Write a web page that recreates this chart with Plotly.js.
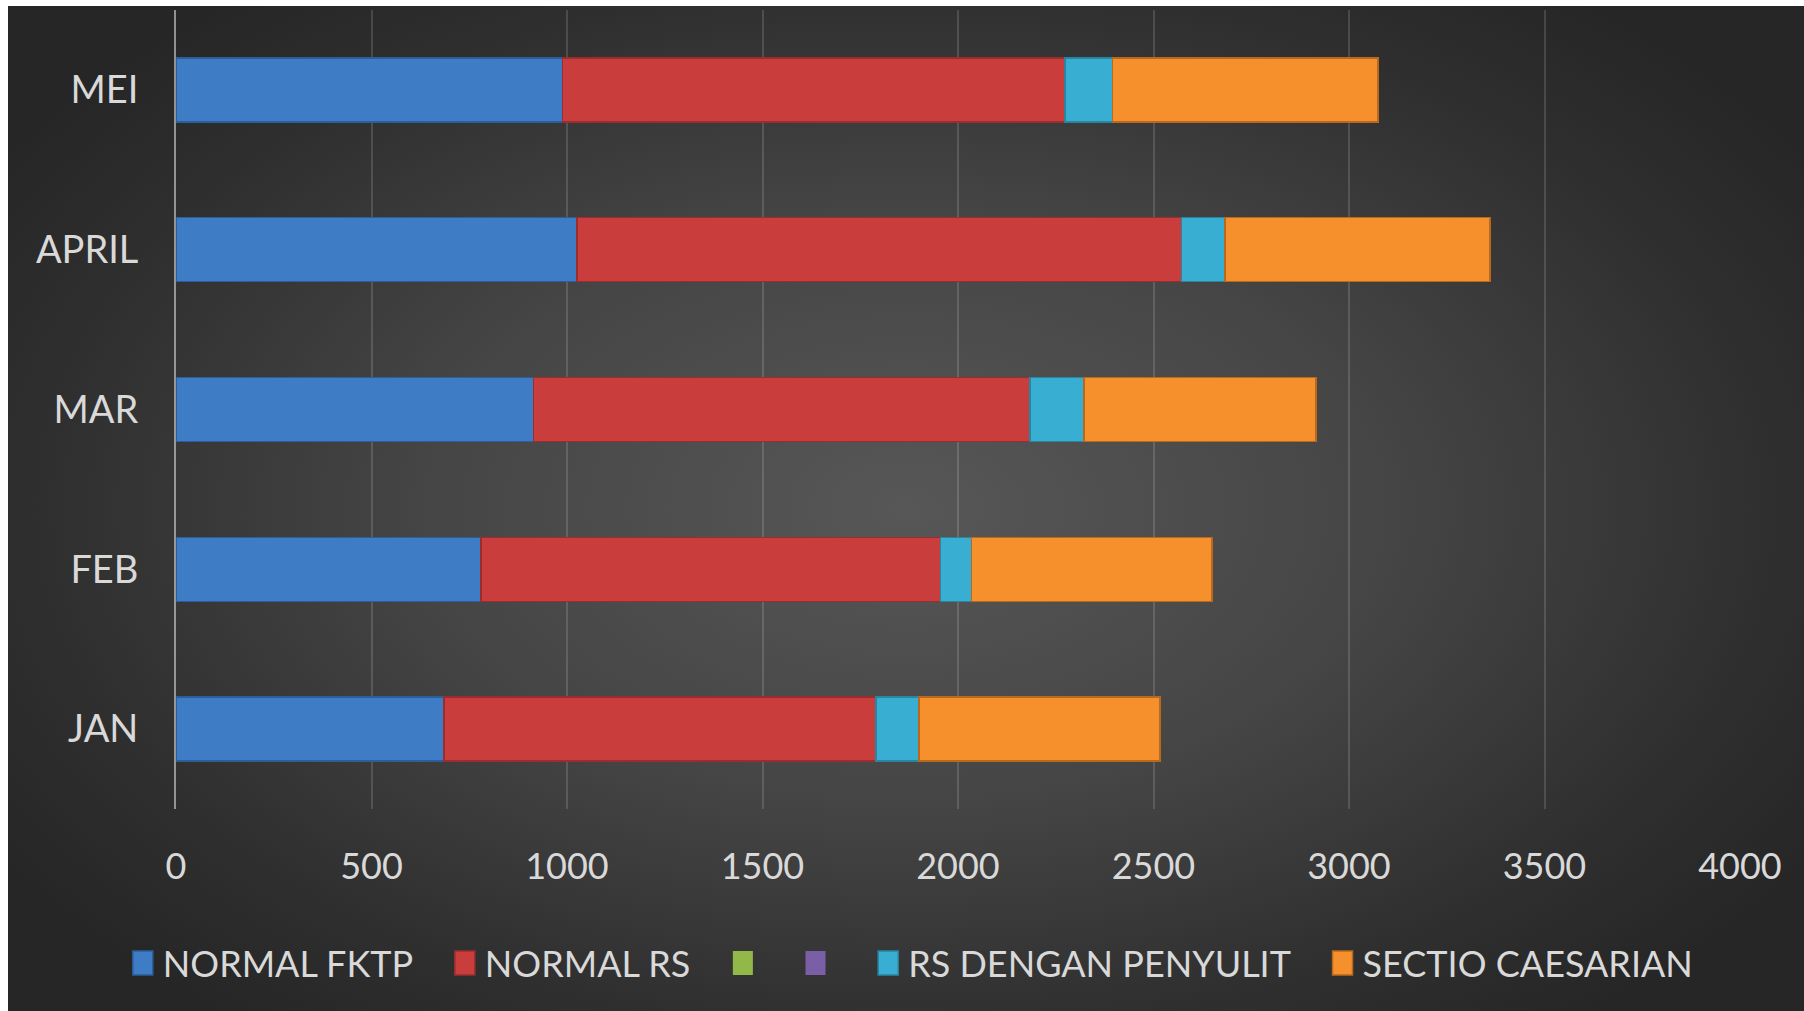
<!DOCTYPE html>
<html>
<head>
<meta charset="utf-8">
<script src="https://cdn.plot.ly/plotly-3.0.1.min.js"></script>
<style>
  html, body { margin: 0; padding: 0; background: #ffffff; width: 1804px; height: 1011px; overflow: hidden; }
  #bg { position: absolute; left: 8px; top: 6px; width: 1796px; height: 1005px;
        background: radial-gradient(ellipse 60% 65% at 50% 50%, #575757 0%, #454545 45%, #2f2f2f 80%, #262626 100%); }
  #chart { position: absolute; left: 0; top: 0; width: 1804px; height: 1011px; }
</style>
</head>
<body>
<div id="bg"></div>
<div id="chart"></div>
<script>
const months = ['JAN', 'FEB', 'MAR', 'APRIL', 'MEI'];
const normalFktp = [686, 780, 914, 1026, 989];
const normalRs = [1104, 1175, 1270, 1545, 1285];
const seriesGreen = [0, 0, 0, 0, 0];
const seriesPurple = [0, 0, 0, 0, 0];
const rsPenyulit = [110, 79, 138, 112, 121];
const sectio = [617, 616, 593, 678, 679];
const xTicks = [0, 500, 1000, 1500, 2000, 2500, 3000, 3500, 4000];

const pad = '\u00a0\u00a0\u00a0';
const names = ['NORMAL FKTP' + pad, 'NORMAL RS' + pad, pad, pad, 'RS DENGAN PENYULIT' + pad, 'SECTIO CAESARIAN'];
const values = [normalFktp, normalRs, seriesGreen, seriesPurple, rsPenyulit, sectio];
const colors = ['#3e7cc6', '#c93e3d', '#93b84a', '#7b5fa6', '#38afd2', '#f6902c'];
const lines = ['#2d5e9a', '#9a2e2e', '#6f8c38', '#5c4680', '#2a869f', '#b8691e'];

const traces = values.map((v, i) => ({
  type: 'bar',
  orientation: 'h',
  y: months,
  x: v,
  name: names[i],
  marker: { color: colors[i], line: { color: lines[i], width: (i === 2 || i === 3) ? 0 : 1.5 } },
  hoverinfo: 'x+name'
}));

const font = { family: 'Lato, "Open Sans", sans-serif', color: '#d9d9d9' };

const layout = {
  width: 1804,
  height: 1011,
  margin: { l: 176, r: 64, t: 10, b: 202 },
  paper_bgcolor: 'rgba(0,0,0,0)',
  plot_bgcolor: 'rgba(0,0,0,0)',
  barmode: 'stack',
  bargap: 0.6,
  showlegend: true,
  font: font,
  xaxis: {
    range: [0, 4000],
    tickvals: xTicks,
    ticktext: xTicks.map(String),
    showgrid: true,
    gridcolor: 'rgba(255,255,255,0.14)',
    gridwidth: 1.5,
    zeroline: false,
    showline: false,
    ticks: 'outside',
    ticklen: 26,
    tickcolor: 'rgba(0,0,0,0)',
    tickfont: { family: font.family, color: '#d9d9d9', size: 36 },
    fixedrange: true
  },
  yaxis: {
    categoryorder: 'array',
    categoryarray: months,
    showgrid: false,
    zeroline: false,
    showline: true,
    linecolor: 'rgba(217,217,217,0.6)',
    linewidth: 2,
    ticks: 'outside',
    ticklen: 28,
    tickcolor: 'rgba(0,0,0,0)',
    tickfont: { family: font.family, color: '#d9d9d9', size: 38 },
    fixedrange: true
  },
  legend: {
    orientation: 'h',
    xref: 'paper',
    yref: 'paper',
    x: -0.034,
    xanchor: 'left',
    y: -0.193,
    yanchor: 'middle',
    traceorder: 'normal',
    font: { family: font.family, color: '#d9d9d9', size: 36 },
    bgcolor: 'rgba(0,0,0,0)',
    itemwidth: 30,
    tracegroupgap: 0
  }
};

function enlargeSwatches() {
  document.querySelectorAll('#chart .legendpoints path').forEach(p => {
    p.setAttribute('d', 'M10,12H-10V-12H10Z');
  });
}

Plotly.newPlot('chart', traces, layout, { displayModeBar: false }).then(gd => {
  enlargeSwatches();
  gd.on('plotly_afterplot', enlargeSwatches);
});
</script>
</body>
</html>
